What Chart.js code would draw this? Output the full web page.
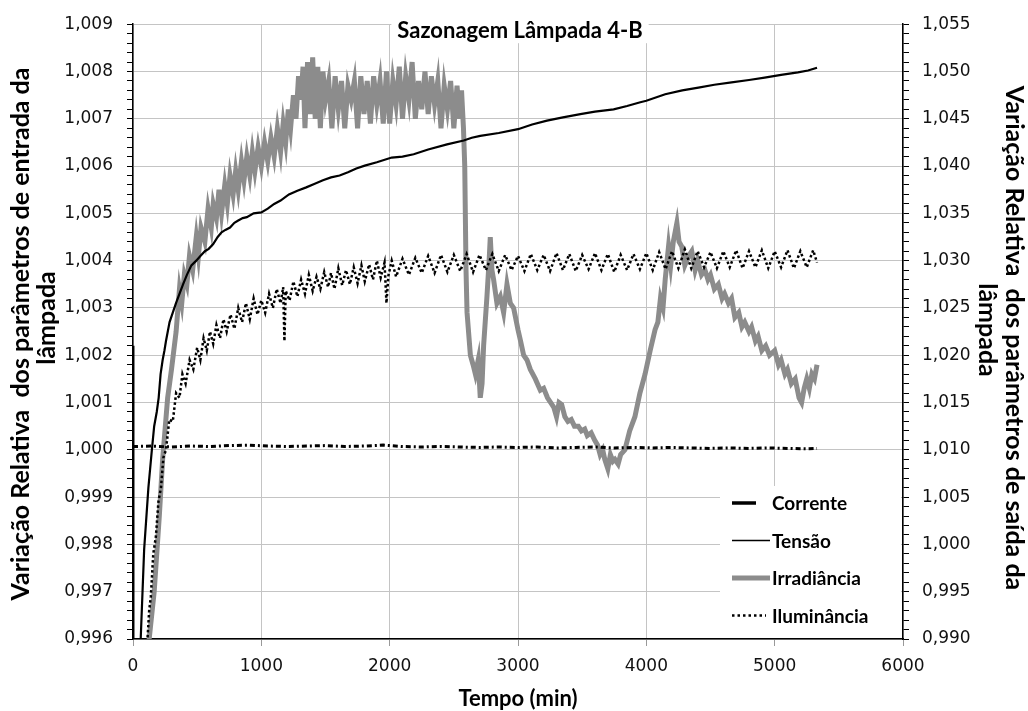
<!DOCTYPE html>
<html>
<head>
<meta charset="utf-8">
<script src="https://cdn.jsdelivr.net/npm/chart.js@4.4.1/dist/chart.umd.min.js"></script>
<style>
  html, body { margin: 0; padding: 0; background: #fff; }
  #wrap { width: 1028px; height: 711px; }
</style>
</head>
<body>
<div id="wrap"><canvas id="chart" width="1028" height="711"></canvas></div>
<script>
// tempo (min) e variação relativa
const corrT = [0, 150, 300, 450, 600, 750, 900, 1050, 1200, 1350, 1500, 1650, 1800, 1950, 2100, 2250, 2400, 2550, 2700, 2850, 3000, 3150, 3300, 3450, 3600, 3750, 3900, 4050, 4200, 4350, 4500, 4650, 4800, 4950, 5100, 5250, 5330];
const corrV = [1.00007, 1.00008, 1.00006, 1.00008, 1.00007, 1.00009, 1.00010, 1.00008, 1.00007, 1.00008, 1.00009, 1.00007, 1.00008, 1.00010, 1.00007, 1.00006, 1.00007, 1.00006, 1.00005, 1.00006, 1.00005, 1.00006, 1.00004, 1.00005, 1.00006, 1.00004, 1.00005, 1.00004, 1.00005, 1.00004, 1.00003, 1.00004, 1.00003, 1.00004, 1.00003, 1.00002, 1.00003];

const tensT = [0, 3, 50, 60, 87, 120, 147, 165, 185, 200, 215, 231, 245, 257, 285, 310, 335, 362, 390, 420, 455, 493, 525, 560, 590, 625, 660, 690, 720, 756, 790, 820, 855, 887, 940, 1000, 1050, 1100, 1150, 1215, 1281, 1350, 1412, 1480, 1543, 1610, 1675, 1740, 1806, 1900, 2016, 2100, 2187, 2300, 2447, 2577, 2640, 2706, 2850, 3000, 3110, 3226, 3350, 3486, 3600, 3745, 3850, 3953, 4000, 4147, 4280, 4406, 4530, 4664, 4800, 4922, 5050, 5181, 5260, 5330];
const tensV = [1.0022, 0.9950, 0.9955, 0.9960, 0.9979, 0.9992, 1.0000, 1.0005, 1.0008, 1.0011, 1.0016, 1.0019, 1.0021, 1.0023, 1.0027, 1.0029, 1.0031, 1.0033, 1.0035, 1.0037, 1.0039, 1.0040, 1.0041, 1.0042, 1.00425, 1.00435, 1.0045, 1.0046, 1.00465, 1.0047, 1.0048, 1.00485, 1.0049, 1.00492, 1.0050, 1.00502, 1.0051, 1.0052, 1.00527, 1.0054, 1.00548, 1.00555, 1.00562, 1.0057, 1.00576, 1.0058, 1.00587, 1.00595, 1.00601, 1.00608, 1.00618, 1.0062, 1.00625, 1.00635, 1.00646, 1.00654, 1.0066, 1.00664, 1.0067, 1.00678, 1.00688, 1.00696, 1.00703, 1.0071, 1.00715, 1.0072, 1.00727, 1.00735, 1.00738, 1.00752, 1.0076, 1.00766, 1.00772, 1.00777, 1.00782, 1.00787, 1.00793, 1.00798, 1.00802, 1.00808];

const irrT = [100, 126, 165, 205, 231, 270, 300, 336, 362, 380, 400, 420, 440, 465, 493, 510, 530, 560, 585, 610, 625, 650, 670, 690, 715, 735, 756, 780, 800, 820, 845, 865, 887, 910, 930, 950, 975, 1000, 1025, 1050, 1075, 1100, 1125, 1150, 1170, 1190, 1210, 1228, 1250, 1270, 1290, 1307, 1325, 1340, 1360, 1380, 1400, 1420, 1440, 1460, 1480, 1500, 1525, 1550, 1575, 1600, 1625, 1650, 1675, 1700, 1725, 1750, 1775, 1800, 1825, 1850, 1875, 1900, 1925, 1950, 1975, 2000, 2025, 2050, 2075, 2100, 2125, 2150, 2175, 2200, 2225, 2250, 2275, 2300, 2325, 2350, 2375, 2400, 2425, 2450, 2475, 2500, 2525, 2545, 2560, 2575, 2585, 2595, 2603, 2629, 2650, 2668, 2690, 2706, 2720, 2732, 2758, 2775, 2784, 2797, 2810, 2836, 2862, 2888, 2914, 2940, 2966, 3000, 3020, 3044, 3070, 3096, 3135, 3174, 3200, 3230, 3255, 3279, 3300, 3320, 3340, 3365, 3389, 3415, 3440, 3470, 3494, 3520, 3540, 3570, 3598, 3620, 3640, 3660, 3676, 3700, 3720, 3740, 3755, 3780, 3800, 3833, 3870, 3911, 3950, 3990, 4030, 4068, 4090, 4110, 4130, 4147, 4173, 4190, 4210, 4238, 4255, 4276, 4300, 4330, 4354, 4380, 4400, 4430, 4457, 4480, 4500, 4530, 4561, 4590, 4610, 4640, 4664, 4690, 4720, 4745, 4767, 4800, 4820, 4850, 4871, 4900, 4930, 4960, 5000, 5030, 5050, 5080, 5100, 5130, 5160, 5190, 5210, 5230, 5250, 5270, 5290, 5310, 5330];
const irrV = [0.9825, 0.9900, 0.9950, 1.0030, 1.0090, 1.0155, 1.0185, 1.0225, 1.0270, 1.0255, 1.0285, 1.0275, 1.0305, 1.0290, 1.0325, 1.0305, 1.0335, 1.0320, 1.0355, 1.0335, 1.0360, 1.0345, 1.0375, 1.0350, 1.0380, 1.0360, 1.0390, 1.0370, 1.0395, 1.0375, 1.0405, 1.0385, 1.0410, 1.0390, 1.0415, 1.0395, 1.0420, 1.0400, 1.0425, 1.0405, 1.0430, 1.0410, 1.0440, 1.0415, 1.0445, 1.0425, 1.0460, 1.0440, 1.0475, 1.0450, 1.0495, 1.0470, 1.0505, 1.0440, 1.0510, 1.0455, 1.0515, 1.0450, 1.0505, 1.0440, 1.0500, 1.0470, 1.0490, 1.0440, 1.0495, 1.0460, 1.0490, 1.0440, 1.0485, 1.0470, 1.0490, 1.0440, 1.0495, 1.0455, 1.0490, 1.0445, 1.0495, 1.0465, 1.0490, 1.0445, 1.0500, 1.0445, 1.0490, 1.0465, 1.0505, 1.0450, 1.0495, 1.0470, 1.0510, 1.0450, 1.0490, 1.0460, 1.0500, 1.0455, 1.0495, 1.0465, 1.0490, 1.0440, 1.0485, 1.0460, 1.0490, 1.0440, 1.0485, 1.0450, 1.0480, 1.0440, 1.0400, 1.0290, 1.0245, 1.0200, 1.0190, 1.0180, 1.0195, 1.0155, 1.0170, 1.0210, 1.0262, 1.0300, 1.0325, 1.0290, 1.0280, 1.0255, 1.0262, 1.0245, 1.0275, 1.0255, 1.0250, 1.0227, 1.0215, 1.0200, 1.0195, 1.0185, 1.0175, 1.0163, 1.0165, 1.0155, 1.0150, 1.0145, 1.0135, 1.0150, 1.0148, 1.0135, 1.0130, 1.0132, 1.0125, 1.0125, 1.0120, 1.0122, 1.0115, 1.0118, 1.0110, 1.0105, 1.0095, 1.0100, 1.0090, 1.0080, 1.0095, 1.0088, 1.0090, 1.0085, 1.0095, 1.0100, 1.0120, 1.0135, 1.0160, 1.0180, 1.0205, 1.0227, 1.0235, 1.0260, 1.0250, 1.0280, 1.0315, 1.0295, 1.0320, 1.0340, 1.0320, 1.0315, 1.0295, 1.0305, 1.0310, 1.0290, 1.0300, 1.0285, 1.0290, 1.0280, 1.0285, 1.0270, 1.0275, 1.0260, 1.0265, 1.0255, 1.0260, 1.0240, 1.0245, 1.0230, 1.0235, 1.0225, 1.0230, 1.0215, 1.0220, 1.0205, 1.0210, 1.0200, 1.0205, 1.0190, 1.0195, 1.0180, 1.0185, 1.0170, 1.0175, 1.0155, 1.0150, 1.0165, 1.0175, 1.0165, 1.0180, 1.0175, 1.0190];

const ilumT = [100, 113, 126, 139, 158, 178, 198, 218, 237, 257, 283, 310, 336, 362, 385, 410, 441, 470, 500, 525, 550, 575, 600, 625, 650, 678, 705, 730, 760, 790, 820, 850, 880, 910, 940, 970, 1000, 1030, 1060, 1090, 1120, 1150, 1170, 1180, 1190, 1220, 1250, 1281, 1310, 1340, 1370, 1400, 1430, 1460, 1490, 1520, 1543, 1570, 1600, 1630, 1660, 1690, 1720, 1750, 1780, 1806, 1840, 1870, 1900, 1930, 1960, 1975, 1990, 2016, 2050, 2100, 2150, 2200, 2250, 2300, 2350, 2400, 2450, 2500, 2550, 2600, 2650, 2700, 2750, 2800, 2850, 2900, 2950, 3000, 3050, 3100, 3150, 3200, 3250, 3300, 3350, 3400, 3450, 3500, 3550, 3600, 3650, 3700, 3750, 3800, 3850, 3900, 3950, 4000, 4050, 4100, 4150, 4200, 4250, 4300, 4350, 4400, 4450, 4500, 4550, 4600, 4650, 4700, 4750, 4800, 4850, 4900, 4950, 5000, 5050, 5100, 5150, 5200, 5250, 5300, 5330];
const ilumV = [0.9870, 0.9900, 0.9930, 0.9945, 0.9990, 1.0008, 1.0045, 1.0060, 1.0092, 1.0100, 1.0132, 1.0130, 1.0160, 1.0155, 1.0180, 1.0170, 1.0195, 1.0185, 1.0208, 1.0195, 1.0218, 1.0205, 1.0225, 1.0212, 1.0232, 1.0218, 1.0238, 1.0225, 1.0243, 1.0228, 1.0250, 1.0235, 1.0255, 1.0238, 1.0260, 1.0243, 1.0258, 1.0245, 1.0265, 1.0250, 1.0270, 1.0255, 1.0272, 1.0215, 1.0268, 1.0258, 1.0278, 1.0262, 1.0280, 1.0265, 1.0285, 1.0268, 1.0283, 1.0270, 1.0288, 1.0272, 1.0287, 1.0270, 1.0292, 1.0274, 1.0290, 1.0275, 1.0293, 1.0276, 1.0295, 1.0278, 1.0296, 1.0280, 1.0300, 1.0282, 1.0298, 1.0255, 1.0284, 1.0300, 1.0283, 1.0302, 1.0285, 1.0303, 1.0287, 1.0305, 1.0287, 1.0306, 1.0288, 1.0306, 1.0289, 1.0307, 1.0288, 1.0306, 1.0290, 1.0307, 1.0289, 1.0306, 1.0290, 1.0305, 1.0289, 1.0307, 1.0290, 1.0306, 1.0289, 1.0308, 1.0290, 1.0307, 1.0289, 1.0306, 1.0291, 1.0308, 1.0290, 1.0307, 1.0288, 1.0306, 1.0290, 1.0307, 1.0291, 1.0308, 1.0290, 1.0309, 1.0291, 1.0310, 1.0292, 1.0312, 1.0292, 1.0310, 1.0293, 1.0309, 1.0292, 1.0310, 1.0293, 1.0311, 1.0292, 1.0310, 1.0293, 1.0311, 1.0292, 1.0310, 1.0293, 1.0311, 1.0292, 1.0310, 1.0293, 1.0311, 1.0298];

const xTicks = [0, 1000, 2000, 3000, 4000, 5000, 6000];
const leftTitle = ["Variação Relativa  dos parâmetros de entrada da", "lâmpada"];
const rightTitle = ["Variação Relativa  dos parâmetros de saída da", "lâmpada"];

const TICK_FONT = { family: "DejaVu Sans", size: 17 };
const BOLD = "Lato";
const GRAY = "#8c8c8c";

const pts = (t, v) => t.map((x, i) => ({ x, y: v[i] }));
const ptBR = (v, d) => v.toFixed(d).replace(".", ",");

const legendItems = [
  { label: "Corrente", color: "#000", width: 3.5, dash: [], len: 24 },
  { label: "Tensão", color: "#000", width: 1.5, dash: [], len: 38 },
  { label: "Irradiância", color: GRAY, width: 5, dash: [], len: 38 },
  { label: "Iluminância", color: "#000", width: 2.5, dash: [2.5, 3], len: 34 },
];

const decor = {
  id: "decor",
  afterDraw(chart) {
    const { ctx, chartArea: a } = chart;
    const cx = (a.left + a.right) / 2;
    ctx.save();

    // titulo sobre a borda superior
    ctx.font = `bold 22px ${BOLD}`;
    ctx.textAlign = "center";
    ctx.textBaseline = "middle";
    const title = "Sazonagem Lâmpada 4-B";
    const tw = ctx.measureText(title).width;
    ctx.fillStyle = "#fff";
    ctx.fillRect(cx + 2 - tw / 2 - 6, a.top - 15, tw + 12, 34);
    ctx.fillStyle = "#000";
    ctx.fillText(title, cx + 2, a.top + 7);

    // eixo x
    ctx.fillText("Tempo (min)", cx, a.bottom + 60);

    // titulos dos eixos y (cada linha com o seu centro)
    ctx.font = `bold 25px ${BOLD}`;
    const drawRot = (lines, xs, ys, ang) => {
      lines.forEach((s, i) => {
        ctx.save();
        ctx.translate(xs[i], ys[i]);
        ctx.rotate(ang);
        ctx.fillText(s, 0, 0);
        ctx.restore();
      });
    };
    drawRot(leftTitle, [21, 47], [334, 318], -Math.PI / 2);
    drawRot(rightTitle, [1014, 987], [338, 330], Math.PI / 2);

    // legenda
    const lx = a.right - 183, ly = a.bottom - 153;
    ctx.fillStyle = "#fff";
    ctx.fillRect(lx, ly, 181, 152);
    ctx.font = `bold 19px ${BOLD}`;
    ctx.textAlign = "left";
    legendItems.forEach((it, i) => {
      const y = ly + 17 + i * 37.5;
      ctx.beginPath();
      ctx.strokeStyle = it.color;
      ctx.lineWidth = it.width;
      ctx.setLineDash(it.dash);
      ctx.moveTo(lx + 12, y);
      ctx.lineTo(lx + 12 + it.len, y);
      ctx.stroke();
      ctx.setLineDash([]);
      ctx.fillStyle = "#000";
      ctx.fillText(it.label, lx + 52, y + 1);
    });
    ctx.restore();
  },
};

new Chart(document.getElementById("chart"), {
  type: "line",
  data: {
    datasets: [
      { label: "Corrente", data: pts(corrT, corrV), yAxisID: "y", borderColor: "#000", borderWidth: 3, borderDash: [5, 3, 2, 3], order: 0 },
      { label: "Tensão", data: pts(tensT, tensV), yAxisID: "y", borderColor: "#000", borderWidth: 2.2, order: 0 },
      { label: "Irradiância", data: pts(irrT, irrV), yAxisID: "y2", borderColor: GRAY, borderWidth: 5, order: 2 },
      { label: "Iluminância", data: pts(ilumT, ilumV), yAxisID: "y2", borderColor: "#000", borderWidth: 2.5, borderDash: [2.5, 2.5], order: 1 },
    ],
  },
  options: {
    responsive: false,
    animation: false,
    layout: { padding: { top: 23, left: 0, right: 0, bottom: 0 } },
    elements: { point: { radius: 0 }, line: { tension: 0 } },
    plugins: { legend: { display: false }, tooltip: { enabled: false }, title: { display: false } },
    scales: {
      x: {
        type: "linear", min: 0, max: 6000,
        afterBuildTicks: (s) => { s.ticks = xTicks.map((v) => ({ value: v })); },
        afterFit: (s) => { s.height = 72; },
        ticks: { font: TICK_FONT, color: "#111", padding: 10, maxRotation: 0, callback: (v) => String(v) },
        grid: { color: "#c4c4c4", tickColor: "#999", tickLength: 7 },
        border: { color: "#000", width: 1.5 },
      },
      y: {
        position: "left", min: 0.996, max: 1.009,
        afterFit: (s) => { s.width = 133; },
        ticks: {
          stepSize: 0.0002, autoSkip: false, font: TICK_FONT, color: "#111", padding: 14,
          callback: (v) => (Math.round(v * 10000) % 10 === 0 ? ptBR(v, 3) : ""),
        },
        grid: {
          color: (c) => (Math.round(c.tick.value * 10000) % 10 === 0 ? "#c4c4c4" : "rgba(0,0,0,0)"),
          tickColor: "#000", tickLength: 6,
        },
        border: { color: "#000", width: 1.5 },
      },
      y2: {
        position: "right", min: 0.990, max: 1.055,
        afterFit: (s) => { s.width = 125; },
        ticks: {
          stepSize: 0.001, autoSkip: false, font: TICK_FONT, color: "#111", padding: 13,
          callback: (v) => (Math.round(v * 1000) % 5 === 0 ? ptBR(v, 3) : ""),
        },
        grid: { drawOnChartArea: false, tickColor: "#000", tickLength: 6 },
        border: { color: "#000", width: 1.5 },
      },
    },
  },
  plugins: [decor],
});
</script>
</body>
</html>
